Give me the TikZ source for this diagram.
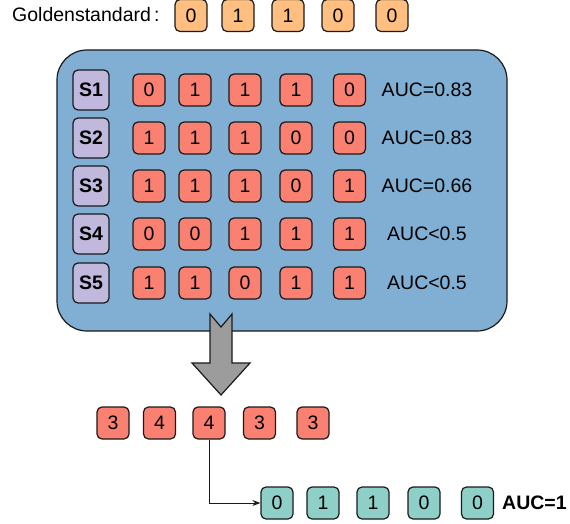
\documentclass[tikz,border=0pt]{standalone}
\usepackage{fontspec}
\setmainfont{Liberation Sans}
\usetikzlibrary{arrows.meta}

\definecolor{goldfill}{HTML}{FFBF80}
\definecolor{cellfill}{HTML}{FA8072}
\definecolor{panelfill}{HTML}{80AFD3}
\definecolor{seqfill}{HTML}{C0B9DD}
\definecolor{bestfill}{HTML}{8ED0C8}
\definecolor{edge}{HTML}{1A1A1A}

\tikzset{
  cell/.style={draw=edge, line width=1.2pt, rounded corners=5pt, inner sep=0pt,
    minimum width=32pt, minimum height=32pt, font=\fontsize{19.5}{22}\selectfont},
  label text/.style={inner sep=0pt, font=\fontsize{19.5}{22}\selectfont}
}

\begin{document}
\begin{tikzpicture}[x=1pt, y=-1pt]
\useasboundingbox (0,0) rectangle (570,524);

% golden standard
\node[label text, anchor=west](gs) at (12,15) {Goldenstandard\,:};
\begin{scope}[every node/.style={cell, fill=goldfill}]
\node(gold1) at (191,15.5) {0};
\node(gold2) at (238,15.5) {1};
\node(gold3) at (288,15.5) {1};
\node(gold4) at (338,15.5) {0};
\node(gold5) at (392,15.5) {0};
\end{scope}

% panel of sequences
\node[draw=edge, line width=1.2pt, fill=panelfill, rounded corners=30pt,
  minimum width=450pt, minimum height=281pt](panel) at (282,190.5) {};

\foreach \r/\y/\a/\b/\c/\d/\e/\auc in {
  1/90/0/1/1/1/0/AUC=0.83,
  2/138/1/1/1/0/0/AUC=0.83,
  3/186/1/1/1/0/1/AUC=0.66,
  4/234/0/0/1/1/1/AUC<0.5,
  5/283/1/1/0/1/1/AUC<0.5}{
  \node[cell, fill=seqfill, minimum width=36pt, minimum height=40pt,
    font=\fontsize{19.5}{22}\selectfont\bfseries](s\r) at (91,\y) {S\r};
  \node[cell, fill=cellfill](c\r1) at (149,\y) {\a};
  \node[cell, fill=cellfill](c\r2) at (195,\y) {\b};
  \node[cell, fill=cellfill](c\r3) at (245,\y) {\c};
  \node[cell, fill=cellfill](c\r4) at (296,\y) {\d};
  \node[cell, fill=cellfill](c\r5) at (349.5,\y) {\e};
  \node[label text](auc\r) at (427,\y) {\auc};
}

% block arrow
\draw[draw=edge, line width=1.2pt, fill=gray!78, line join=miter]
  (210,314) -- (221,327) -- (232,314) -- (232,363) -- (250,363)
  -- (221,395) -- (192,363) -- (210,363) -- cycle;

% votes
\begin{scope}[every node/.style={cell, fill=cellfill}]
\node(vote1) at (113,423) {3};
\node(vote2) at (159.5,423) {4};
\node(vote3) at (209,423) {4};
\node(vote4) at (259.5,423) {3};
\node(vote5) at (313,423) {3};
\end{scope}

% best sequence
\begin{scope}[every node/.style={cell, fill=bestfill}]
\node(best1) at (277,503) {0};
\node(best2) at (323,503) {1};
\node(best3) at (373,503) {1};
\node(best4) at (424,503) {0};
\node(best5) at (477.5,503) {0};
\end{scope}
\node[label text, anchor=west, font=\fontsize{19.5}{22}\selectfont\bfseries](bestauc) at (502,503) {AUC=1};

\draw[-{Stealth[length=8pt, width=6pt]}, line width=1pt, draw=edge] (vote3.south) |- (best1.west);
\end{tikzpicture}
\end{document}
